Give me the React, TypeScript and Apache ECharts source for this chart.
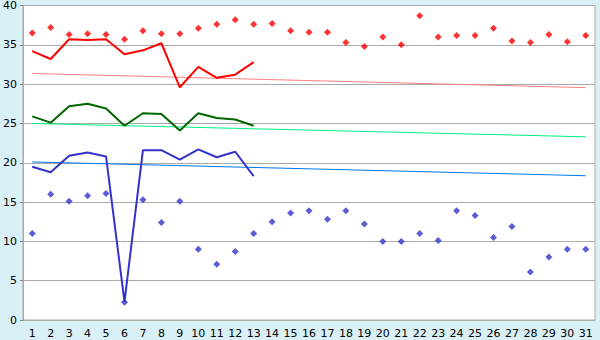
import React, { useEffect, useRef } from "react";
import * as echarts from "echarts";

const days = Array.from({ length: 31 }, (_, i) => String(i + 1));
const yTicks = { min: 0, max: 40, interval: 5 };

const redPoints = [36.5, 37.2, 36.3, 36.4, 36.3, 35.7, 36.8, 36.4, 36.4, 37.1, 37.6, 38.2, 37.6, 37.7, 36.8, 36.6, 36.6, 35.3, 34.8, 36.0, 35.0, 38.7, 36.0, 36.2, 36.2, 37.1, 35.5, 35.3, 36.3, 35.4, 36.2];
const bluePoints = [11.0, 16.0, 15.1, 15.8, 16.1, 2.25, 15.3, 12.4, 15.1, 9.0, 7.1, 8.7, 11.0, 12.5, 13.6, 13.9, 12.8, 13.9, 12.2, 10.0, 10.0, 11.0, 10.1, 13.9, 13.3, 10.5, 11.9, 6.1, 8.0, 9.0, 9.0];

const redLine = [34.2, 33.2, 35.7, 35.6, 35.7, 33.8, 34.3, 35.2, 29.6, 32.2, 30.8, 31.2, 32.8];
const greenLine = [25.9, 25.1, 27.2, 27.5, 26.9, 24.7, 26.3, 26.2, 24.1, 26.3, 25.7, 25.5, 24.7];
const blueLine = [19.5, 18.8, 20.9, 21.3, 20.8, 2.3, 21.6, 21.6, 20.4, 21.7, 20.7, 21.4, 18.3];

const redTrend = [31.35, 29.55];
const greenTrend = [25.0, 23.3];
const blueTrend = [20.1, 18.35];

const font = "DejaVu Sans";

export default function App() {
  const ref = useRef<HTMLDivElement>(null);
  useEffect(() => {
    if (!ref.current) return;
    const chart = echarts.init(ref.current, undefined, { renderer: "svg" });
    const last = days.length - 1;
    const trend = (vals: number[], color: string) => ({
      type: "line",
      data: [[0, vals[0]], [last, vals[1]]],
      symbol: "none",
      lineStyle: { color, width: 1 },
      silent: true,
      z: 1,
    });
    const line = (vals: number[], color: string) => ({
      type: "line",
      data: vals,
      symbol: "none",
      lineStyle: { color, width: 2 },
      z: 3,
    });
    const scatter = (vals: number[], color: string) => ({
      type: "scatter",
      data: vals,
      symbol: "diamond",
      symbolSize: 7,
      itemStyle: { color },
      z: 4,
    });
    chart.setOption({
      animation: false,
      backgroundColor: "#d9f0f7",
      grid: {
        left: 21,
        right: 5,
        top: 5,
        bottom: 20,
        show: true,
        backgroundColor: "#ffffff",
        borderColor: "#aaaaaa",
        borderWidth: 1,
      },
      xAxis: {
        type: "category",
        data: days,
        boundaryGap: true,
        axisLine: { lineStyle: { color: "#aaaaaa" } },
        axisTick: { alignWithLabel: true, length: 5, lineStyle: { color: "#000000" } },
        axisLabel: { interval: 0, color: "#000000", fontFamily: font, fontSize: 11, margin: 8 },
        splitLine: { show: false },
      },
      yAxis: {
        type: "value",
        min: yTicks.min,
        max: yTicks.max,
        interval: yTicks.interval,
        axisLine: { show: true, lineStyle: { color: "#aaaaaa" } },
        axisTick: { show: true, length: 3, lineStyle: { color: "#888888" } },
        axisLabel: { color: "#000000", fontFamily: font, fontSize: 11, margin: 6 },
        splitLine: { show: true, lineStyle: { color: "#aaaaaa", width: 1 } },
      },
      series: [
        trend(redTrend, "#ff8080"),
        trend(greenTrend, "#00f080"),
        trend(blueTrend, "#0077ee"),
        line(redLine, "#ff0000"),
        line(greenLine, "#006600"),
        line(blueLine, "#3333cc"),
        scatter(redPoints, "#ff0000"),
        scatter(bluePoints, "#3333cc"),
      ],
    });
    return () => chart.dispose();
  }, []);
  return <div ref={ref} style={{ width: 600, height: 340, position: "absolute", left: 0, top: 0 }} />;
}
